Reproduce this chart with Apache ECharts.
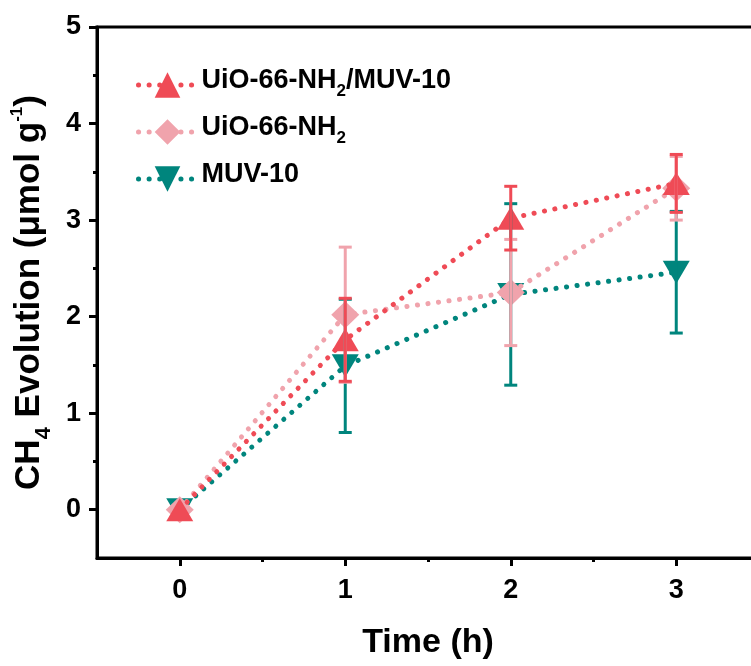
<!DOCTYPE html>
<html><head><meta charset="utf-8">
<script src="https://cdn.jsdelivr.net/npm/echarts@6/dist/echarts.min.js"></script>
<style>html,body{margin:0;padding:0;background:#fff}#c{width:751px;height:666px}</style>
</head><body><div id="c"></div>
<script>
const times = [0, 1, 2, 3];
const hybridMean = [0, 1.76, 3.02, 3.38];
const hybridErr  = [0, 0.43, 0.33, 0.30];
const uioMean    = [0, 2.02, 2.25, 3.33];
const uioErr     = [0, 0.70, 0.55, 0.33];
const muvMean    = [0, 1.49, 2.23, 2.46];
const muvErr     = [0, 0.69, 0.94, 0.63];
const xMajor = [0, 1, 2, 3];
const xMinor = [0.5, 1.5, 2.5];
const yMajor = [0, 1, 2, 3, 4, 5];
const yMinor = [0.5, 1.5, 2.5, 3.5, 4.5];
const seriesNames = ['UiO-66-NH2/MUV-10', 'UiO-66-NH2', 'MUV-10'];

const RED = '#EF4B56', PINK = '#F0A3AC', TEAL = '#00857D';
const FONT = 'Liberation Sans, Arial, sans-serif';

const legendRich = {
  n: {fontSize: 27, fontWeight: 'bold', fontFamily: FONT, color: '#000', verticalAlign: 'bottom', lineHeight: 30, padding: [0, 0, 6, 0]},
  s: {fontSize: 17, fontWeight: 'bold', fontFamily: FONT, color: '#000', verticalAlign: 'bottom', lineHeight: 18}
};
function legendFmt(name) {
  if (name === 'UiO-66-NH2/MUV-10') return '{n|UiO-66-NH}{s|2}{n|/MUV-10}';
  if (name === 'UiO-66-NH2') return '{n|UiO-66-NH}{s|2}';
  return '{n|' + name + '}';
}

function errSeries(name, mean, err, color, z) {
  return {
    type: 'custom', name: name, z: z,
    data: times.map((t, i) => [t, mean[i], err[i]]),
    renderItem: function (params, api) {
      const x = api.value(0), m = api.value(1), e = api.value(2);
      if (!e) return null;
      const top = api.coord([x, m + e]), bot = api.coord([x, m - e]);
      const w = 6.5;
      const st = {stroke: color, lineWidth: 3};
      return {type: 'group', children: [
        {type: 'line', shape: {x1: top[0], y1: top[1], x2: bot[0], y2: bot[1]}, style: st},
        {type: 'line', shape: {x1: top[0] - w, y1: top[1], x2: top[0] + w, y2: top[1]}, style: st},
        {type: 'line', shape: {x1: bot[0] - w, y1: bot[1], x2: bot[0] + w, y2: bot[1]}, style: st}
      ]};
    },
    silent: true
  };
}
function lineSeries(name, mean, color, symbol, size, rot, z) {
  return {
    type: 'line', name: name, z: z,
    data: times.map((t, i) => [t, mean[i]]),
    symbol: symbol, symbolSize: size, symbolRotate: rot,
    showAllSymbol: true,
    lineStyle: {color: color, width: 5, type: [0.1, 10.5], cap: 'round'},
    itemStyle: {color: color},
    emphasis: {disabled: true}
  };
}

const axisLineStyle = {color: '#000', width: 3};

const chart = echarts.init(document.getElementById('c'), null, {renderer: 'canvas'});
chart.setOption({
  backgroundColor: '#fff',
  animation: false,
  grid: {left: 97, right: -8, top: 27, bottom: 108, show: true, borderColor: '#000', borderWidth: 3,
         containLabel: false, outerBoundsMode: 'none'},
  legend: {
    data: seriesNames, orient: 'vertical', left: 131, top: 62,
    itemWidth: 58, itemHeight: 32, itemGap: 14,
    formatter: legendFmt,
    textStyle: {rich: legendRich},
    lineStyle: {width: 5, type: [0.1, 10.5], cap: 'round'},
    selectedMode: false
  },
  xAxis: [
    {type: 'value', min: -0.5, max: 3.5, interval: 0.5, position: 'bottom',
     axisLine: {show: true, onZero: false, lineStyle: axisLineStyle},
     axisTick: {show: true, customValues: xMajor, length: 8, lineStyle: axisLineStyle},
     axisLabel: {customValues: xMajor, margin: 19, fontSize: 27, fontWeight: 'bold', fontFamily: FONT, color: '#000'},
     splitLine: {show: false},
     name: 'Time (h)', nameLocation: 'middle', nameGap: 68,
     nameTextStyle: {fontSize: 34, fontWeight: 'bold', fontFamily: FONT, color: '#000'}},
    {type: 'value', min: -0.5, max: 3.5, interval: 0.5, position: 'bottom',
     axisLine: {show: false, onZero: false},
     axisTick: {show: true, customValues: xMinor, length: 4, lineStyle: axisLineStyle},
     axisLabel: {show: false}, splitLine: {show: false}}
  ],
  yAxis: [
    {type: 'value', min: -0.5, max: 5, interval: 0.5, position: 'left',
     axisLine: {show: true, onZero: false, lineStyle: axisLineStyle},
     axisTick: {show: true, customValues: yMajor, length: 8, lineStyle: axisLineStyle},
     axisLabel: {customValues: yMajor, margin: 16, fontSize: 27, fontWeight: 'bold', fontFamily: FONT, color: '#000'},
     splitLine: {show: false},
     name: '{n|CH}{s|4}{n| Evolution (μmol g}{p|-1}{n|)}',
     nameLocation: 'middle', nameGap: 42,
     nameTextStyle: {
       rich: {
         n: {fontSize: 35, fontWeight: 'bold', fontFamily: FONT, color: '#000', verticalAlign: 'bottom', lineHeight: 46, padding: [0, 0, 8, 0]},
         s: {fontSize: 22, fontWeight: 'bold', fontFamily: FONT, color: '#000', verticalAlign: 'bottom', lineHeight: 22},
         p: {fontSize: 17, fontWeight: 'bold', fontFamily: FONT, color: '#000', verticalAlign: 'top', lineHeight: 17}
       }
     }},
    {type: 'value', min: -0.5, max: 5, interval: 0.5, position: 'left',
     axisLine: {show: false, onZero: false},
     axisTick: {show: true, customValues: yMinor, length: 4, lineStyle: axisLineStyle},
     axisLabel: {show: false}, splitLine: {show: false}}
  ],
  series: [
    lineSeries('MUV-10', muvMean, TEAL, 'triangle', [27, 23], 180, 2),
    lineSeries('UiO-66-NH2', uioMean, PINK, 'diamond', [28, 27], 0, 3),
    lineSeries('UiO-66-NH2/MUV-10', hybridMean, RED, 'triangle', [27, 23], 0, 4),
    errSeries('err-muv', muvMean, muvErr, TEAL, 5),
    errSeries('err-uio', uioMean, uioErr, PINK, 6),
    errSeries('err-hyb', hybridMean, hybridErr, RED, 7)
  ]
});
</script>
</body></html>
